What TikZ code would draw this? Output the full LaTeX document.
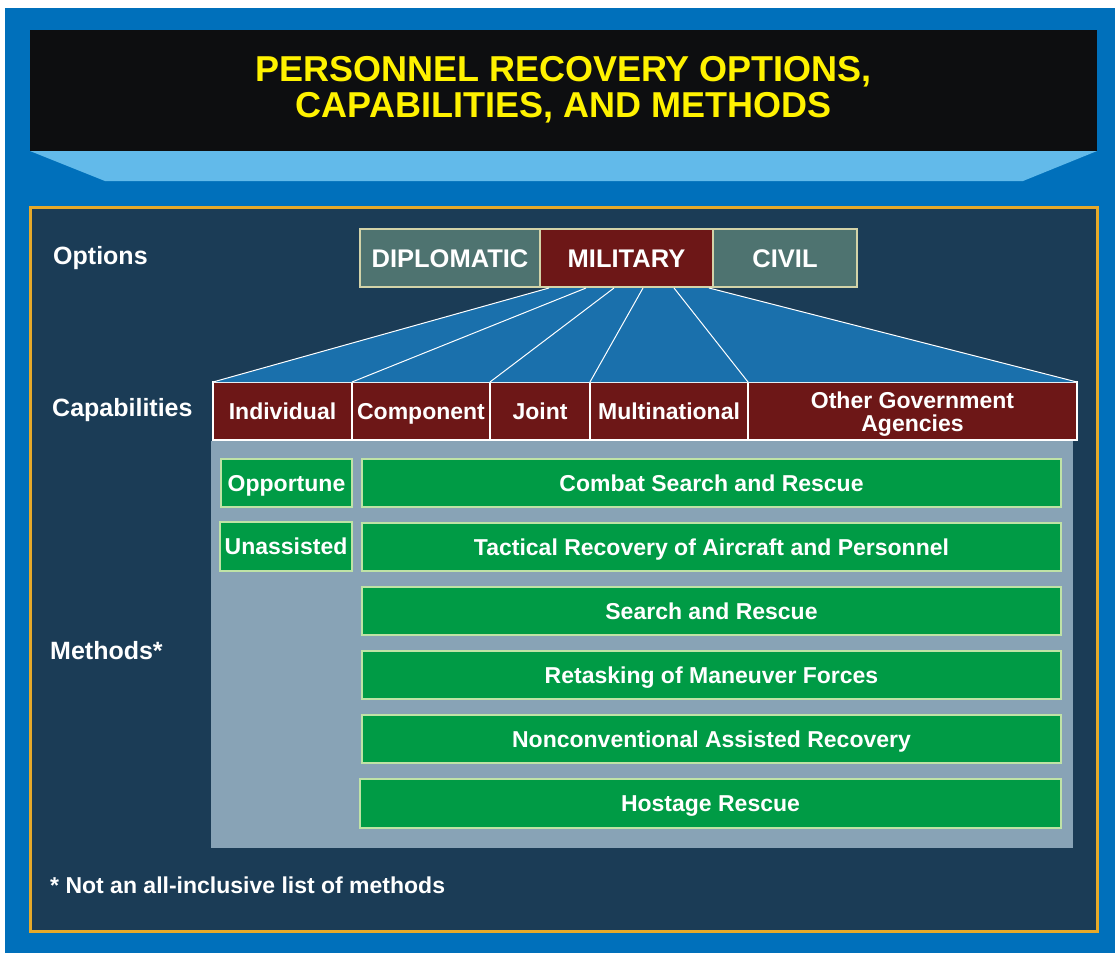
\documentclass[tikz,border=0pt]{standalone}
\usepackage{fontspec}
\setmainfont{Liberation Sans}
\definecolor{outerblue}{HTML}{0070BB}
\definecolor{titleblack}{HTML}{0D0E10}
\definecolor{lightblue}{HTML}{62BAEA}
\definecolor{panel}{HTML}{1B3C56}
\definecolor{gold}{HTML}{E6A92A}
\definecolor{teal}{HTML}{4E7370}
\definecolor{darkred}{HTML}{6D1717}
\definecolor{beige}{HTML}{D3D3A8}
\definecolor{fanblue}{HTML}{1A70AC}
\definecolor{methgray}{HTML}{88A3B6}
\definecolor{green}{HTML}{009B45}
\definecolor{greenedge}{HTML}{BFE3A6}
\definecolor{titleyellow}{HTML}{FFF200}
\begin{document}
\begin{tikzpicture}[x=1pt,y=-1pt,
  lbl/.style={font=\fontsize{25}{28}\selectfont\bfseries, text=white, inner sep=0pt},
  optbox/.style={draw=beige, line width=1.2pt, minimum height=58, inner sep=0pt, outer sep=0pt,
     font=\fontsize{25.5}{27}\selectfont\bfseries, text=white, text height=18.3pt, text depth=0pt},
  capbox/.style={draw=white, line width=1.2pt, fill=darkred, minimum height=58, inner sep=0pt, outer sep=0pt,
     font=\fontsize{23}{23}\selectfont\bfseries, text=white, align=center},
  capone/.style={text height=16.5pt, text depth=0pt},
  methbox/.style={draw=greenedge, line width=1.2pt, fill=green, inner sep=0pt, outer sep=0pt,
     font=\fontsize{23}{25}\selectfont\bfseries, text=white, text height=16.5pt, text depth=0pt},
  fanline/.style={draw=white, line width=1pt}
]
\useasboundingbox (0,0) rectangle (1115,953);
\fill[white] (0,0) rectangle (1115,953);
\fill[outerblue] (5,8) rectangle (1115,953);
% title
\fill[lightblue] (30,151) -- (1097,151) -- (1023,181) -- (105,181) -- cycle;
\node[fill=titleblack, minimum width=1067, minimum height=121, inner sep=0pt, outer sep=0pt,
  font=\fontsize{36}{36}\selectfont\bfseries, text=titleyellow, align=center]
  (title) at (563.5,90) {PERSONNEL RECOVERY OPTIONS,\\CAPABILITIES, AND METHODS};
% panel
\draw[gold, line width=3pt, fill=panel] (30,207) rectangle (1097,931);
% options
\node[lbl, anchor=west] (optlbl) at (53,258) {Options};
\node[optbox, fill=teal, minimum width=180] (dip) at (450,258) {DIPLOMATIC};
\node[optbox, fill=darkred, minimum width=173] (mil) at (626.5,258) {MILITARY};
\node[optbox, fill=teal, minimum width=144] (civ) at (785,258) {CIVIL};
% capabilities
\node[lbl, anchor=west] (caplbl) at (52,410) {Capabilities};
\node[capbox, capone, minimum width=139] (ind) at (282.5,411) {Individual};
\node[capbox, capone, minimum width=138] (comp) at (421,411) {Component};
\node[capbox, capone, minimum width=100] (joint) at (540,411) {Joint};
\node[capbox, capone, minimum width=158] (multi) at (669,411) {Multinational};
\node[capbox, minimum width=329,
  label={[font=\fontsize{23}{23}\selectfont\bfseries, text=white, align=center, inner sep=0pt, yshift=-3pt]center:Other Government\\Agencies}]
  (oga) at (912.5,411) {};
% fan
\coordinate (f1) at (549,288);
\coordinate (f2) at (586,288);
\coordinate (f3) at (614,288);
\coordinate (f4) at (643,288);
\coordinate (f5) at (674,288);
\coordinate (f6) at (709,288);
\fill[fanblue] (f1) -- (f6) -- (oga.north east) -- (ind.north west) -- cycle;
\draw[fanline] (f1) -- (ind.north west);
\draw[fanline] (f2) -- (comp.north west);
\draw[fanline] (f3) -- (joint.north west);
\draw[fanline] (f4) -- (multi.north west);
\draw[fanline] (f5) -- (oga.north west);
\draw[fanline] (f6) -- (oga.north east);
% methods
\node[fill=methgray, minimum width=862, minimum height=407, inner sep=0pt, outer sep=0pt, anchor=north west] (meth) at (211,441) {};
\node[lbl, anchor=west] (methlbl) at (50,651) {Methods*};
\node[methbox, minimum width=131, minimum height=48] (opp) at (286.5,483) {Opportune};
\node[methbox, minimum width=132, minimum height=49] (una) at (286,546.5) {Unassisted};
\node[methbox, minimum width=699, minimum height=48] (csar) at (711.5,483) {Combat Search and Rescue};
\node[methbox, minimum width=699, minimum height=48] (trap) at (711.5,547) {Tactical Recovery of Aircraft and Personnel};
\node[methbox, minimum width=699, minimum height=48] (sar) at (711.5,611) {Search and Rescue};
\node[methbox, minimum width=699, minimum height=48] (ret) at (711.5,675) {Retasking of Maneuver Forces};
\node[methbox, minimum width=699, minimum height=48] (ncar) at (711.5,739) {Nonconventional Assisted Recovery};
\node[methbox, minimum width=701, minimum height=49] (hr) at (710.5,803.5) {Hostage Rescue};
% footnote
\node[font=\fontsize{23}{25}\selectfont\bfseries, text=white, inner sep=0pt, anchor=west] (note) at (50,885) {* Not an all-inclusive list of methods};
\end{tikzpicture}
\end{document}
